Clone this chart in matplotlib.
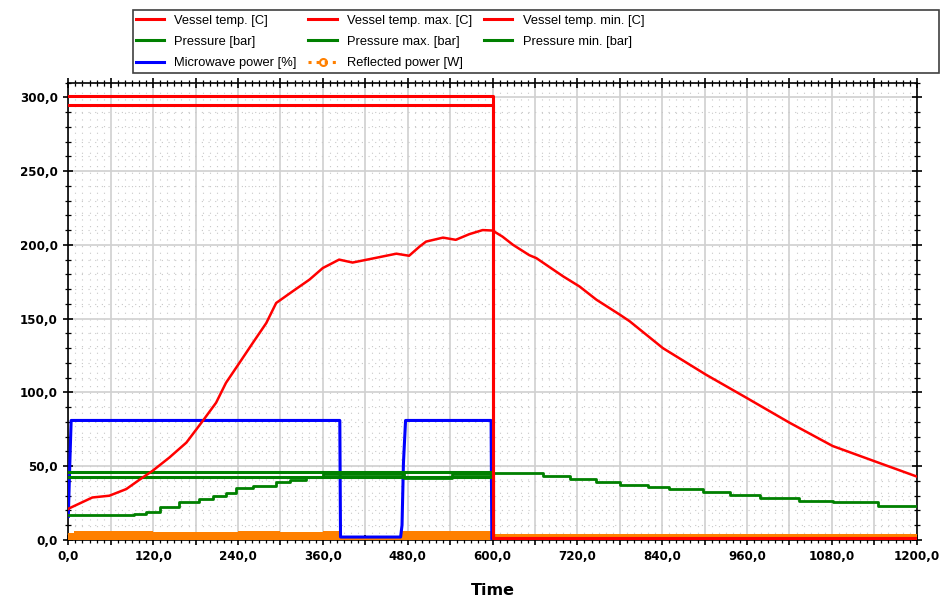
import matplotlib.pyplot as plt
from matplotlib.lines import Line2D
from matplotlib.patches import Rectangle
from matplotlib.ticker import MultipleLocator, FuncFormatter

plt.rcParams['font.family'] = ['Liberation Sans', 'DejaVu Sans']

# Vessel temperature curve [C]
t_temp = [0, 1, 34, 58, 82, 105, 119, 143, 167, 190, 209, 223, 242, 261, 280, 294,
          317, 341, 360, 369, 383, 402, 426, 464, 482, 497, 506, 530, 548, 567, 586,
          600, 614, 629, 652, 662, 700, 723, 747, 780, 794, 841, 902, 959, 1020,
          1081, 1143, 1200]
temp = [21, 21.4, 28.8, 30, 34.5, 42.3, 46.8, 55.9, 66, 80.6, 93, 106.5, 120, 133.6,
        147, 160.6, 168.4, 176.4, 184.3, 186.5, 190, 188, 190.3, 194, 192.6, 198.9,
        202.2, 204.9, 203.4, 207.2, 210, 209.7, 205.6, 200, 193, 191, 178.6, 171.8,
        162.8, 152.7, 148.2, 130, 112, 96.4, 79.5, 63.7, 52.9, 43]

# limits (max / min), drop at end of program
t_lim = [0, 600, 600, 1200]
temp_max = [301, 301, 1.5, 1.5]
temp_min = [295, 295, 1.5, 1.5]
p_max = [46, 46, 0, 0]
p_min = [43, 43, 0, 0]

# Pressure [bar] (step values)
t_press = [0, 93, 110, 129, 157, 185, 204, 223, 237, 261, 294, 313, 336, 360, 475,
           543, 600, 671, 710, 747, 780, 820, 850, 898, 936, 978, 1033, 1081, 1145, 1200]
pressure = [16.9, 17.6, 19.1, 22.1, 25.5, 27.7, 30, 31.8, 34.9, 36.7, 39, 40.8, 43,
            44.5, 42, 44.5, 45.3, 43.5, 41.2, 39, 37.2, 36, 34.7, 32.2, 30.2, 28.6,
            26.6, 25.5, 22.8, 22.8]

# Microwave power [%]
t_mw = [0, 2, 4, 384, 385, 470, 472, 474, 477, 598, 599, 1200]
mw = [16, 50, 81, 81, 2, 2, 10, 52, 81, 81, 0.5, 0.5]

# Reflected power [W]
t_rf = [0, 8, 60, 120, 180, 240, 300, 360, 385, 472, 540, 598, 600, 1200]
rf = [4.5, 6.2, 5.8, 5.5, 5.5, 6, 5.6, 6, 3, 6.2, 6, 5.8, 4, 4]

fig = plt.figure(figsize=(9.41, 5.97), dpi=100)
ax = fig.add_axes([0.0726, 0.0955, 0.9016, 0.7663])

red = '#ff0000'
green = '#008000'
blue = '#0000ff'
orange = '#ff8000'

ax.fill_between(t_rf, 0, rf, step='post', color=orange, lw=0, zorder=3)
ax.plot(t_mw, mw, color=blue, lw=2.2, zorder=4)
ax.plot(t_lim, p_max, color=green, lw=2.2, zorder=4)
ax.plot(t_lim, p_min, color=green, lw=2.2, zorder=4)
ax.step(t_press, pressure, where='post', color=green, lw=2, zorder=5)
ax.plot(t_lim, temp_max, color=red, lw=2.2, zorder=6)
ax.plot(t_lim, temp_min, color=red, lw=2.2, zorder=6)
ax.plot(t_temp, temp, color=red, lw=1.8, zorder=6)

ax.set_xlim(0, 1200)
ax.set_ylim(0, 310)

ax.xaxis.set_major_locator(MultipleLocator(60))
ax.xaxis.set_minor_locator(MultipleLocator(10))
ax.yaxis.set_major_locator(MultipleLocator(50))
ax.yaxis.set_minor_locator(MultipleLocator(10))

def xfmt(v, pos):
    if round(v) % 120 != 0:
        return ''
    return f'{v:.1f}'.replace('.', ',')

ax.xaxis.set_major_formatter(FuncFormatter(xfmt))
ax.yaxis.set_major_formatter(FuncFormatter(lambda v, p: f'{v:.1f}'.replace('.', ',')))

ax.grid(which='major', color='#d0d0d0', lw=1.2, zorder=0)
ax.grid(which='minor', color='#c8c8c8', lw=0.8, linestyle=(0, (1, 5)), zorder=0)
ax.set_axisbelow(True)

ax.tick_params(which='both', direction='inout', top=True, right=True, color='black')
ax.tick_params(which='major', length=7, width=1.2, pad=4)
ax.tick_params(which='minor', length=4, width=0.9)
for lab in ax.get_xticklabels() + ax.get_yticklabels():
    lab.set_fontfamily('DejaVu Sans')
    lab.set_fontweight('bold')
    lab.set_fontsize(8.6)
for s in ax.spines.values():
    s.set_linewidth(1.2)

ax.set_xlabel('Time', fontsize=11.5, fontweight='bold', family='DejaVu Sans', labelpad=14)

handles = [
    Line2D([], [], color=red, lw=2.2),
    Line2D([], [], color=green, lw=2.2),
    Line2D([], [], color=blue, lw=2.2),
    Line2D([], [], color=red, lw=2.2),
    Line2D([], [], color=green, lw=2.2),
    Line2D([], [], color=orange, lw=2.2, ls=':', marker='o', mfc='none', ms=5, mew=1.5),
    Line2D([], [], color=red, lw=2.2),
    Line2D([], [], color=green, lw=2.2),
]
labels = ['Vessel temp. [C]', 'Pressure [bar]', 'Microwave power [%]',
          'Vessel temp. max. [C]', 'Pressure max. [bar]', 'Reflected power [W]',
          'Vessel temp. min. [C]', 'Pressure min. [bar]']
fig.legend(handles, labels, ncol=3, loc='upper left',
           bbox_to_anchor=(133 / 941, 1 - 12 / 597), fontsize=9.3,
           frameon=False, borderpad=0.2, labelspacing=0.72, handlelength=2.2,
           handletextpad=0.8, columnspacing=0.9, borderaxespad=0)
fig.patches.append(Rectangle((133 / 941, 1 - 73 / 597), 806 / 941, 63 / 597,
                             transform=fig.transFigure, fill=False,
                             edgecolor='#404040', lw=1.2))

fig.savefig('out.png', dpi=100)
